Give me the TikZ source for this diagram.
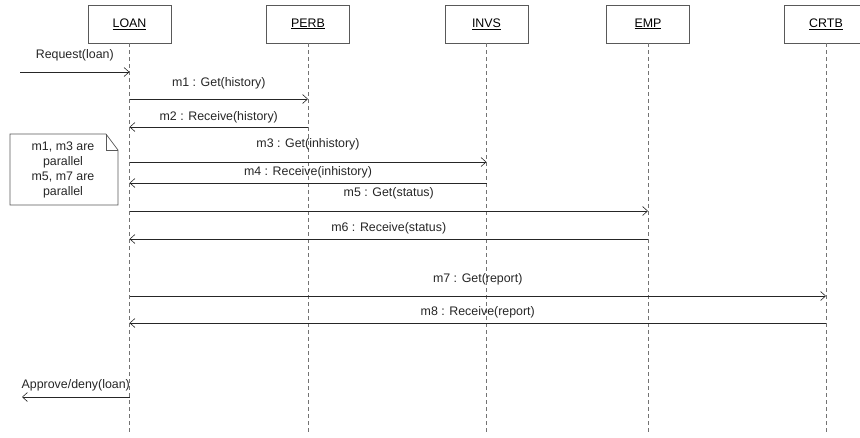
\documentclass[tikz,border=0pt]{standalone}
\usepackage{fontspec}
\setmainfont{Liberation Sans}
\usepackage{tikz}
\usetikzlibrary{positioning,calc,arrows.meta}

\tikzset{
    obj/.style={draw=black!65, rectangle, minimum width=83pt, minimum height=38pt, inner sep=0pt},
    life/.style={draw=black!55, dash pattern=on 4pt off 3pt},
    msg/.style={draw=black!85, -{Straight Barb[length=5pt,width=9pt,line width=0.6pt]}},
    lbl/.style={inner sep=0pt, text=black!85},
}

\begin{document}
\begin{tikzpicture}[x=1pt, y=-1pt, font=\fontsize{12.4}{15}\selectfont, line width=0.7pt]
\useasboundingbox (0,0) rectangle (860,437);
\begin{scope}
\clip (0,0) rectangle (860,437);
\foreach \na / \x in {LOAN/129.5,PERB/308,INVS/486.5,EMP/648,CRTB/826}{
    \path (\x, 24) node[obj] (\na) {\underline{\na}};
    \coordinate (\na-end) at (\x, 434);
    \draw[life] (\na) -- (\na-end);
};
\end{scope}

% outside messages
\coordinate (in) at (20, 72);
\coordinate (out) at (22, 397);
\draw[msg] (in) -- node[lbl, yshift=17pt] {Request(loan)} (LOAN |- in);
\draw[msg] (LOAN |- out) -- node[lbl, yshift=12pt] {Approve/deny(loan)} (out);

\foreach \a / \b / \y / \d / \txt in {
    LOAN/PERB/99/16/{m1 : Get(history)},
    PERB/LOAN/127/10/{m2 : Receive(history)},
    LOAN/INVS/162/18/{m3 : Get(inhistory)},
    INVS/LOAN/183/11/{m4 : Receive(inhistory)},
    LOAN/EMP/211/18/{m5 : Get(status)},
    EMP/LOAN/239/11/{m6 : Receive(status)},
    LOAN/CRTB/296/17/{m7 : Get(report)},
    CRTB/LOAN/323/11/{m8 : Receive(report)}}{
    \draw[msg] (\a |- 0,\y) -- node[lbl, yshift=\d pt] {\txt} (\b |- 0,\y);
};

% note
\draw[black!65] (10,134) -- (106,134) -- (118,150) -- (118,205) -- (10,205) -- cycle;
\draw[black!65] (106,134) -- (106,150) -- (118,150);
\path (63,170) node[lbl, align=center] (note) {m1, m3 are\\parallel\\m5, m7 are\\parallel};
\end{tikzpicture}
\end{document}
